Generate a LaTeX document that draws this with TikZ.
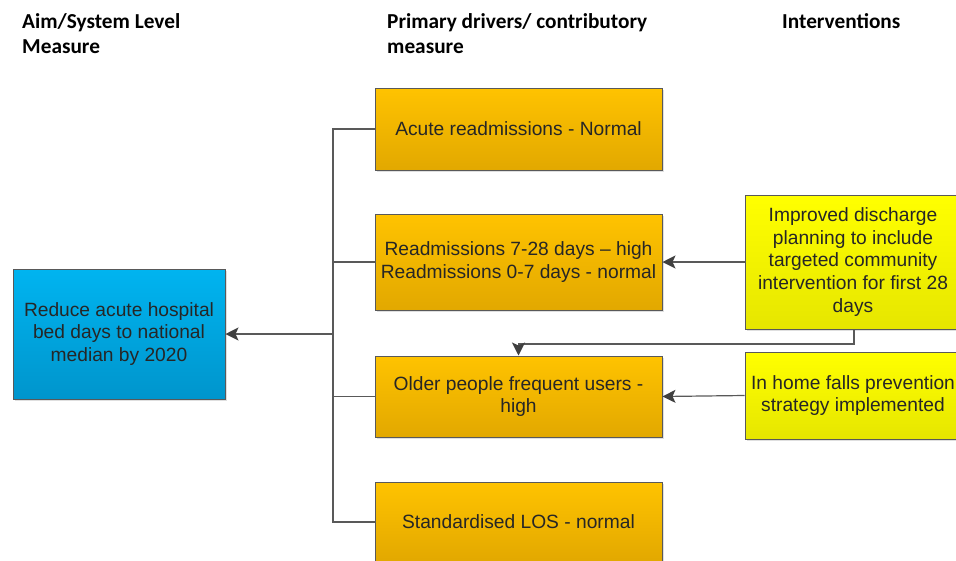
\documentclass[tikz,border=0pt]{standalone}
\usepackage{fontspec}
\setmainfont{Liberation Sans}
\newfontfamily\hdrfont{Carlito}
\usetikzlibrary{arrows.meta,shadows}
\definecolor{linegray}{HTML}{595959}
\definecolor{tipgray}{HTML}{404040}
\definecolor{blueT}{HTML}{00B4F0}
\definecolor{blueB}{HTML}{0095CC}
\definecolor{orT}{HTML}{FFC300}
\definecolor{orB}{HTML}{E2A800}
\definecolor{yeT}{HTML}{FFFF00}
\definecolor{yeB}{HTML}{E6E600}
\tikzset{
  box/.style={draw=linegray, line width=1pt, rectangle, align=center,
    font=\fontsize{19.2}{22.8}\selectfont, text=black!85,
    drop shadow={shadow xshift=2pt, shadow yshift=-2pt, opacity=0.25, fill=gray}},
  bluebox/.style={box, top color=blueT, bottom color=blueB},
  orbox/.style={box, top color=orT, bottom color=orB, minimum width=287pt},
  yebox/.style={box, top color=yeT, bottom color=yeB, minimum width=216pt},
  conn/.style={draw=linegray, line width=1.2pt},
  arr/.style={conn, -{Stealth[length=13pt,width=13pt,inset=3pt,color=tipgray]}},
  hdr/.style={font=\hdrfont\bfseries\fontsize{21.3}{25}\selectfont, align=left, anchor=north west, inner sep=0pt}
}
\begin{document}
\begin{tikzpicture}[x=1pt,y=-1pt]
\useasboundingbox (0,0) rectangle (956,560);
\clip (0,0) rectangle (956,560);
\node[hdr] (h1) at (22,13) {Aim/System Level\\Measure};
\node[hdr] (h2) at (387,13) {Primary drivers/ contributory\\measure};
\node[hdr] (h3) at (782,13) {Interventions};

\node[bluebox, minimum width=212pt, minimum height=130pt] (aim) at (119,334) {Reduce acute hospital\\bed days to national\\median by 2020};

\node[orbox, minimum height=82pt] (o1) at (518.5,129) {Acute readmissions - Normal};
\node[orbox, minimum height=96pt] (o2) at (518.5,262) {Readmissions 7-28 days -- high\\Readmissions 0-7 days - normal};
\node[orbox, minimum height=81pt] (o3) at (518.5,396.5) {Older people frequent users -\\high};
\node[orbox, minimum height=80pt] (o4) at (518.5,522) {Standardised LOS - normal};

\node[yebox, minimum height=134pt] (ya) at (853,262) {Improved discharge\\planning to include\\targeted community\\intervention for first 28\\days};
\node[yebox, minimum height=87pt] (yb) at (853,395.5) {In home falls prevention\\strategy implemented};

\coordinate (t1) at (333,129);
\coordinate (t4) at (333,522);
\coordinate (tm) at (333,334);
\draw[conn] (o1.west) -- (t1) -- (t4) -- (o4.west);
\draw[conn] (o2.west) -- (o2.west -| tm);
\draw[conn] (o3.west) -- (o3.west -| tm);
\draw[arr] (tm) -- (aim.east);

\draw[arr] (ya.west) -- (o2.east);
\draw[arr] (yb.west) -- (o3.east);
\coordinate (bend) at (854,344);
\draw[arr] (ya.south -| bend) -- (bend) -- (bend -| o3.north) -- (o3.north);
\end{tikzpicture}
\end{document}
